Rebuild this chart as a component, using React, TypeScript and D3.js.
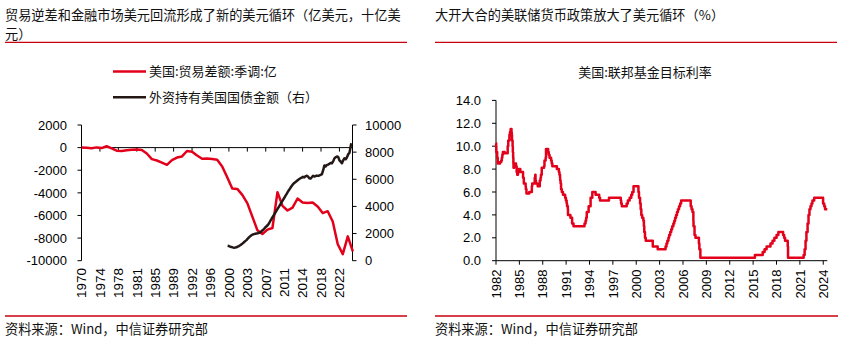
import React from 'react';
import * as d3 from 'd3';

// ---------- Left chart data ----------
const tradeYears = [
  1970, 1971, 1972, 1973, 1974, 1975, 1976, 1977, 1978, 1979,
  1980, 1981, 1982, 1983, 1984, 1985, 1986, 1987, 1988, 1989,
  1990, 1991, 1992, 1993, 1994, 1995, 1996, 1997, 1998, 1999,
  2000, 2001, 2002, 2003, 2004, 2005, 2006, 2007, 2008, 2009,
  2010, 2011, 2012, 2013, 2014, 2015, 2016, 2017, 2018, 2019,
  2020, 2021, 2022, 2023, 2024,
];
const tradeBalance = [
  20, -20, -60, 20, -40, 120, -60, -270, -300, -240,
  -190, -160, -210, -520, -1020, -1140, -1320, -1520, -1110, -880,
  -780, -300, -360, -700, -980, -960, -1010, -1080, -1670, -2620,
  -3620, -3650, -4180, -4910, -6100, -7300, -7640, -7250, -7110, -3940,
  -5150, -5560, -5300, -4500, -4850, -4900, -4850, -5200, -5790, -5620,
  -6540, -8550, -9420, -7850, -9170,
];

const holdingDates = [
  2000.0, 2000.25, 2000.5, 2000.75, 2001.0, 2001.25, 2001.5, 2001.75,
  2002.0, 2002.25, 2002.5, 2002.75, 2003.0, 2003.25, 2003.5, 2003.75,
  2004.0, 2004.25, 2004.5, 2004.75, 2005.0, 2005.25, 2005.5, 2005.75,
  2006.0, 2006.25, 2006.5, 2006.75, 2007.0, 2007.25, 2007.5, 2007.75,
  2008.0, 2008.25, 2008.5, 2008.75, 2009.0, 2009.25, 2009.5, 2009.75,
  2010.0, 2010.25, 2010.5, 2010.75, 2011.0, 2011.25, 2011.5, 2011.75,
  2012.0, 2012.25, 2012.5, 2012.75, 2013.0, 2013.25, 2013.5, 2013.75,
  2014.0, 2014.25, 2014.5, 2014.75, 2015.0, 2015.25, 2015.5, 2015.75,
  2016.0, 2016.25, 2016.5, 2016.75, 2017.0, 2017.25, 2017.5, 2017.75,
  2018.0, 2018.25, 2018.5, 2018.75, 2019.0, 2019.25, 2019.5, 2019.75,
  2020.0, 2020.25, 2020.5, 2020.75, 2021.0, 2021.25, 2021.5, 2021.75,
  2022.0, 2022.25, 2022.5, 2022.75, 2023.0, 2023.25, 2023.5, 2023.75,
  2024.0, 2024.25, 2024.45, 2024.6,
];
const holdingValues = [
  1100, 1080, 1040, 1010, 980, 960, 970, 990,
  1030, 1080, 1140, 1200, 1280, 1360, 1440, 1520,
  1620, 1720, 1810, 1880, 1930, 1960, 1990, 2010,
  2020, 2050, 2100, 2180, 2260, 2350, 2450, 2540,
  2630, 2760, 2930, 3090, 3240, 3390, 3550, 3710,
  3860, 4010, 4160, 4320, 4470, 4620, 4780, 4930,
  5085, 5230, 5370, 5500, 5630, 5730, 5790, 5870,
  5950, 6020, 6080, 6120, 6180, 6140, 6220, 6260,
  6200, 6080, 6050, 6150, 6260, 6200, 6240, 6270,
  6250, 6280, 6330, 6360, 6650, 7020, 6950, 7060,
  7080, 7140, 7200, 7180, 7320, 7540, 7620, 7680,
  7650, 7400, 7300, 7180, 7400, 7550, 7480, 7620,
  7850, 7950, 8350, 8650,
];

const leftXLabels = [
  '1970', '1974', '1978', '1981', '1985', '1989', '1992', '1996',
  '2000', '2003', '2007', '2011', '2014', '2018', '2022',
];
const leftYTicks = [2000, 0, -2000, -4000, -6000, -8000, -10000];
const rightYTicks = [10000, 8000, 6000, 4000, 2000, 0];

// ---------- Right chart data (change dates, rate held until next) ----------
const fedDates = [
  1982.74, 1982.75, 1982.77, 1982.88, 1982.95, 1983.25, 1983.40, 1983.48, 1983.54, 1983.61,
  1983.85, 1984.23, 1984.30, 1984.45, 1984.53, 1984.61, 1984.72, 1984.75, 1984.78, 1984.86,
  1984.89, 1984.93, 1984.96, 1984.98, 1985.05, 1985.12, 1985.30, 1985.38, 1985.45, 1985.55,
  1985.62, 1985.85, 1986.20, 1986.30, 1986.53, 1986.56, 1986.64, 1987.00, 1987.33, 1987.38,
  1987.70, 1987.77, 1987.80, 1987.85, 1988.08, 1988.35, 1988.45, 1988.50, 1988.60, 1988.90,
  1988.95, 1989.10, 1989.15, 1989.42, 1989.50, 1989.60, 1989.80, 1989.88, 1989.96, 1990.54,
  1990.80, 1990.87, 1990.95, 1990.97, 1991.02, 1991.08, 1991.18, 1991.33, 1991.60, 1991.70,
  1991.80, 1991.85, 1991.95, 1991.97, 1992.28, 1992.50, 1992.68, 1994.09, 1994.22, 1994.30,
  1994.38, 1994.62, 1994.87, 1995.09, 1995.51, 1995.97, 1996.08, 1997.23, 1998.74, 1998.79,
  1998.88, 1999.50, 1999.65, 1999.88, 2000.09, 2000.22, 2000.38, 2001.01, 2001.08, 2001.22,
  2001.30, 2001.38, 2001.49, 2001.64, 2001.71, 2001.76, 2001.85, 2001.95, 2002.85, 2003.48,
  2004.49, 2004.61, 2004.72, 2004.86, 2004.95, 2005.09, 2005.22, 2005.34, 2005.49, 2005.61,
  2005.72, 2005.84, 2005.96, 2006.08, 2006.22, 2006.36, 2006.49, 2007.72, 2007.83, 2007.95,
  2008.06, 2008.08, 2008.21, 2008.33, 2008.77, 2008.83, 2008.96, 2015.96, 2016.96, 2017.20,
  2017.46, 2017.96, 2018.22, 2018.46, 2018.74, 2018.97, 2019.58, 2019.71, 2019.83, 2020.17,
  2020.21, 2022.21, 2022.34, 2022.46, 2022.57, 2022.72, 2022.84, 2022.96, 2023.09, 2023.22,
  2023.34, 2023.57, 2024.71, 2024.85, 2024.96, 2025.25,
];
const fedRates = [
  10.25, 10.0, 9.5, 9.0, 8.5, 8.625, 8.75, 9.0, 9.25, 9.5,
  9.375, 10.0, 10.5, 11.0, 11.25, 11.5, 11.25, 11.0, 10.5, 10.0,
  9.5, 9.0, 8.5, 8.125, 8.25, 8.5, 8.25, 7.75, 7.5, 7.75,
  8.0, 7.75, 7.25, 6.75, 6.5, 6.25, 5.875, 6.0, 6.5, 6.75,
  7.25, 7.5, 7.0, 6.75, 6.5, 7.0, 7.25, 7.5, 8.125, 8.25,
  8.75, 9.0, 9.75, 9.5, 9.25, 9.0, 8.75, 8.5, 8.25, 8.0,
  7.75, 7.5, 7.25, 7.0, 6.75, 6.25, 6.0, 5.75, 5.5, 5.25,
  5.0, 4.75, 4.5, 4.0, 3.75, 3.25, 3.0, 3.25, 3.5, 3.75,
  4.25, 4.75, 5.5, 6.0, 5.75, 5.5, 5.25, 5.5, 5.25, 5.0,
  4.75, 5.0, 5.25, 5.5, 5.75, 6.0, 6.5, 6.0, 5.5, 5.0,
  4.5, 4.0, 3.75, 3.5, 3.0, 2.5, 2.0, 1.75, 1.25, 1.0,
  1.25, 1.5, 1.75, 2.0, 2.25, 2.5, 2.75, 3.0, 3.25, 3.5,
  3.75, 4.0, 4.25, 4.5, 4.75, 5.0, 5.25, 4.75, 4.5, 4.25,
  3.5, 3.0, 2.25, 2.0, 1.5, 1.0, 0.25, 0.5, 0.75, 1.0,
  1.25, 1.5, 1.75, 2.0, 2.25, 2.5, 2.25, 2.0, 1.75, 1.25,
  0.25, 0.5, 1.0, 1.75, 2.5, 3.25, 4.0, 4.5, 4.75, 5.0,
  5.25, 5.5, 5.0, 4.75, 4.5, 4.5,
];
const fedXLabels = [
  '1982', '1985', '1988', '1991', '1994', '1997', '2000', '2003',
  '2006', '2009', '2012', '2015', '2018', '2021', '2024',
];
const fedYTicks = [14, 12, 10, 8, 6, 4, 2, 0];

// ---------- styles ----------
const RED = '#e3001b';
const DARK = '#231815';
const RULE = '#c8000f';
const FONT = '"Liberation Sans", Arial, "Noto Sans CJK SC", sans-serif';
const CJK = '"Noto Sans CJK SC", "Liberation Sans", sans-serif';

export default function App() {
  // Left chart scales
  const leftStart = 1970 + 11 / 12;
  const xL = d3.scaleLinear().domain([leftStart, 2024.85]).range([81.5, 352.5]);
  const yL = d3.scaleLinear().domain([-10000, 2000]).range([260.7, 125]);
  const yR = d3.scaleLinear().domain([0, 10000]).range([260.7, 125]);
  const leftTickPos = leftXLabels.map((_, i) => leftStart + (i * 44) / 12);

  const redLine = d3
    .line<number>()
    .x((_, i) => xL(tradeYears[i] + 11 / 12))
    .y((d) => yL(d))(tradeBalance) as string;
  const blackLine = d3
    .line<number>()
    .x((_, i) => xL(holdingDates[i]))
    .y((d) => yR(d))(holdingValues) as string;

  // Right chart scales
  const fedStart = 1982.73;
  const xF = d3.scaleLinear().domain([fedStart, 2025.25]).range([496, 827.3]);
  const yF = d3.scaleLinear().domain([0, 14]).range([260.7, 100.4]);
  const fedTickPos = fedXLabels.map((_, i) => fedStart + i * 3);
  const fedLine = d3
    .line<number>()
    .curve(d3.curveStepAfter)
    .x((_, i) => xF(fedDates[i]))
    .y((d) => yF(d))(fedRates) as string;

  const axisColor = '#000';
  const tickFs = 13;

  return (
    <svg
      width={841}
      height={341}
      style={{ position: 'absolute', left: 0, top: 0, background: '#fff' }}
      fontFamily={FONT}
    >
      <rect x={0} y={0} width={841} height={341} fill="#fff" />
      {/* Titles */}
      <text x={5} y={19.5} fontSize={13.2} fontFamily={CJK} fill="#111">
        贸易逆差和金融市场美元回流形成了新的美元循环（亿美元，十亿美
      </text>
      <text x={5} y={38.8} fontSize={13.2} fontFamily={CJK} fill="#111">
        元）
      </text>
      <line x1={5} x2={407} y1={42.3} y2={42.3} stroke={RULE} strokeWidth={1.3} />
      <text x={435} y={19.5} fontSize={13.2} fontFamily={CJK} fill="#111">
        大开大合的美联储货币政策放大了美元循环（%）
      </text>
      <line x1={435} x2={837} y1={42.3} y2={42.3} stroke={RULE} strokeWidth={1.3} />

      {/* Left legend */}
      <line x1={113} x2={146} y1={71.5} y2={71.5} stroke={RED} strokeWidth={2.6} />
      <text x={149} y={76} fontSize={13} fontFamily={CJK} fill="#111">
        美国:贸易差额:季调:亿
      </text>
      <line x1={113} x2={146} y1={97.3} y2={97.3} stroke={DARK} strokeWidth={2.6} />
      <text x={149} y={102} fontSize={13} fontFamily={CJK} fill="#111">
        外资持有美国国债金额（右）
      </text>

      {/* Left axes */}
      <line x1={xL.range()[0]} x2={xL.range()[0]} y1={125} y2={260.7} stroke={axisColor} strokeWidth={1} />
      {leftYTicks.map((t) => (
        <g key={'ly' + t}>
          <line x1={77.5} x2={81.5} y1={yL(t)} y2={yL(t)} stroke={axisColor} />
          <text x={67} y={yL(t)} dy="0.36em" textAnchor="end" fontSize={tickFs} fill="#000">
            {t}
          </text>
        </g>
      ))}
      <line x1={xL.range()[1]} x2={xL.range()[1]} y1={125} y2={260.7} stroke={axisColor} strokeWidth={1} />
      {rightYTicks.map((t) => (
        <g key={'ry' + t}>
          <line x1={352.5} x2={356.5} y1={yR(t)} y2={yR(t)} stroke={axisColor} />
          <text x={365} y={yR(t)} dy="0.36em" textAnchor="start" fontSize={tickFs} fill="#000">
            {t}
          </text>
        </g>
      ))}
      <line x1={xL.range()[0]} x2={xL.range()[1]} y1={yL(0)} y2={yL(0)} stroke={axisColor} strokeWidth={1} />
      {leftTickPos.map((p, i) => (
        <g key={'lx' + i}>
          <line x1={xL(p)} x2={xL(p)} y1={yL(0)} y2={yL(0) + 4} stroke={axisColor} />
          <text
            transform={`translate(${xL(p)},268) rotate(-90)`}
            textAnchor="end"
            dy="0.36em"
            fontSize={13.5}
            fill="#000"
          >
            {leftXLabels[i]}
          </text>
        </g>
      ))}
      <path d={redLine} fill="none" stroke={RED} strokeWidth={2.5} strokeLinejoin="round" />
      <path d={blackLine} fill="none" stroke={DARK} strokeWidth={2.5} strokeLinejoin="round" />

      {/* Right chart */}
      <text x={645} y={76.5} textAnchor="middle" fontSize={13} fontFamily={CJK} fill="#111">
        美国:联邦基金目标利率
      </text>
      <line x1={496} x2={496} y1={yF(14)} y2={yF(0)} stroke={axisColor} />
      {fedYTicks.map((t) => (
        <g key={'fy' + t}>
          <line x1={492} x2={496} y1={yF(t)} y2={yF(t)} stroke={axisColor} />
          <text x={481} y={yF(t)} dy="0.36em" textAnchor="end" fontSize={tickFs} fill="#000">
            {t.toFixed(1)}
          </text>
        </g>
      ))}
      <line x1={496} x2={827.3} y1={yF(0)} y2={yF(0)} stroke={axisColor} />
      {fedTickPos.map((p, i) => (
        <g key={'fx' + i}>
          <line x1={xF(p)} x2={xF(p)} y1={yF(0)} y2={yF(0) + 4} stroke={axisColor} />
          <text
            transform={`translate(${xF(p)},269.5) rotate(-90)`}
            textAnchor="end"
            dy="0.36em"
            fontSize={13}
            fill="#000"
          >
            {fedXLabels[i]}
          </text>
        </g>
      ))}
      <path d={fedLine} fill="none" stroke={RED} strokeWidth={2.5} strokeLinejoin="round" />

      {/* Footers */}
      <line x1={5} x2={407} y1={316} y2={316} stroke={RULE} strokeWidth={1.3} />
      <text x={5} y={333.5} fontSize={13.2} fontFamily={CJK} fill="#111">
        资料来源：Wind，中信证券研究部
      </text>
      <line x1={435} x2={838} y1={316} y2={316} stroke={RULE} strokeWidth={1.3} />
      <text x={435} y={333.5} fontSize={13.2} fontFamily={CJK} fill="#111">
        资料来源：Wind，中信证券研究部
      </text>
    </svg>
  );
}
